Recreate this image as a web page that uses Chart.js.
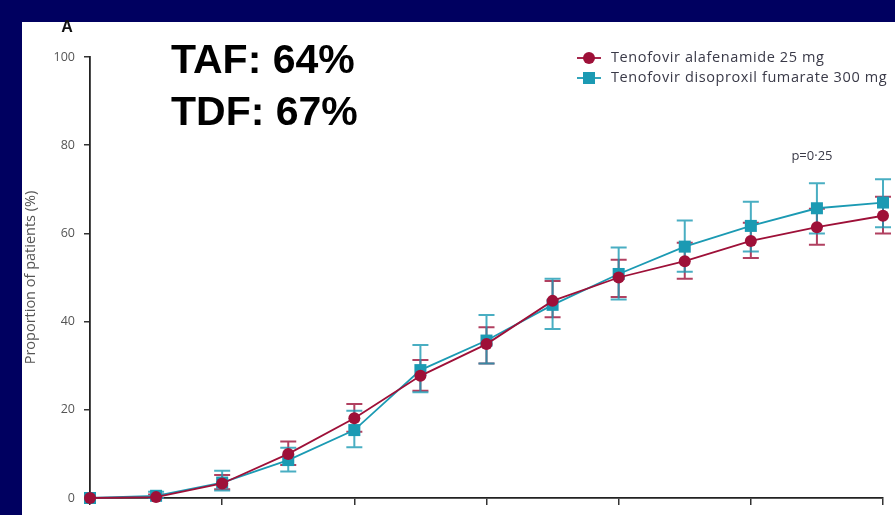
<!DOCTYPE html>
<html>
<head>
<meta charset="utf-8">
<script src="https://cdn.jsdelivr.net/npm/chart.js@4/dist/chart.umd.min.js"></script>
<style>
  html, body { margin: 0; padding: 0; }
  body { width: 895px; height: 515px; background: #000060; position: relative; overflow: hidden; }
  #panel { position: absolute; left: 22px; top: 22px; right: 0; bottom: 0; background: #fff; }
  #chart { position: absolute; left: 0; top: 0; }
</style>
</head>
<body>
<div id="panel"></div>
<canvas id="chart" width="895" height="515"></canvas>
<script>
// weeks on treatment
const weeks = [0, 4, 8, 12, 16, 20, 24, 28, 32, 36, 40, 44, 48];

// Tenofovir alafenamide 25 mg, % with 95% CI
const taf     = [0, 0.2, 3.3, 10.0, 18.1, 27.7, 34.9, 44.7, 50.0, 53.7, 58.3, 61.4, 64];
const tafLow  = [0, 0,   2.0,  7.5, 15.0, 24.3, 30.5, 41.0, 45.6, 49.7, 54.4, 57.4, 60.0];
const tafHigh = [0, 0.8, 5.2, 12.8, 21.3, 31.3, 38.7, 49.2, 54.0, 57.9, 62.4, 65.6, 68.3];

// Tenofovir disoproxil fumarate 300 mg, % with 95% CI
const tdf     = [0, 0.5, 3.5,  8.6, 15.4, 29.0, 35.7, 43.8, 50.8, 57.0, 61.7, 65.7, 67];
const tdfLow  = [0, 0,   1.7,  6.0, 11.5, 24.0, 30.5, 38.3, 45.0, 51.3, 55.9, 60.0, 61.4];
const tdfHigh = [0, 1.4, 6.2, 11.4, 19.8, 34.7, 41.5, 49.7, 56.8, 62.9, 67.2, 71.4, 72.3];

const yTicks = [0, 20, 40, 60, 80, 100];
const seriesNames = ['Tenofovir alafenamide 25 mg', 'Tenofovir disoproxil fumarate 300 mg'];
const headline = ['TAF: 64%', 'TDF: 67%'];
const pValue = 'p=0·25';

const RED = '#9e1038';
const TEAL = '#1b9ab3';
const SMALL_FONT = '"Open Sans", "Noto Sans", sans-serif';

const toPoints = (vals) => vals.map((v, i) => ({ x: weeks[i], y: v }));

// vertical CI bars with caps, drawn under the markers
const errorBars = {
  id: 'errorBars',
  beforeDatasetsDraw(chart) {
    const { ctx, scales: { x, y } } = chart;
    ctx.save();
    chart.data.datasets.forEach((ds) => {
      ctx.strokeStyle = ds.borderColor;
      ctx.globalAlpha = 0.8;
      ctx.lineWidth = 2;
      ds.data.forEach((p, i) => {
        const px = x.getPixelForValue(p.x);
        const lo = y.getPixelForValue(ds.low[i]);
        const hi = y.getPixelForValue(ds.high[i]);
        if (Math.abs(lo - hi) < 2) return;
        ctx.beginPath();
        ctx.moveTo(px, lo); ctx.lineTo(px, hi);
        ctx.moveTo(px - 8, lo); ctx.lineTo(px + 8, lo);
        ctx.moveTo(px - 8, hi); ctx.lineTo(px + 8, hi);
        ctx.stroke();
      });
    });
    ctx.restore();
  }
};

// panel letter, headline numbers, legend and p value
const annotations = {
  id: 'annotations',
  afterDraw(chart) {
    const { ctx, scales: { x, y } } = chart;
    ctx.save();

    ctx.fillStyle = '#111';
    ctx.font = 'bold 16px "Liberation Sans", Arial, sans-serif';
    ctx.textAlign = 'center';
    ctx.textBaseline = 'alphabetic';
    ctx.fillText('A', 67, 32);

    ctx.fillStyle = '#000';
    ctx.textAlign = 'left';
    ctx.font = 'bold 41px "Liberation Sans", Arial, sans-serif';
    ctx.fillText(headline[0], 171, 73);
    ctx.fillText(headline[1], 171, 125);

    // legend: short line with the marker in its middle
    chart.data.datasets.forEach((ds, i) => {
      const ly = 58 + i * 20;
      ctx.strokeStyle = ds.borderColor;
      ctx.lineWidth = 1.8;
      ctx.beginPath();
      ctx.moveTo(577, ly); ctx.lineTo(601, ly);
      ctx.stroke();
      ctx.fillStyle = ds.borderColor;
      ctx.beginPath();
      if (ds.pointStyle === 'rect') {
        const s = ds.pointRadius * Math.SQRT1_2;
        ctx.rect(589 - s, ly - s, 2 * s, 2 * s);
      } else {
        ctx.arc(589, ly, ds.pointRadius, 0, Math.PI * 2);
      }
      ctx.fill();
      ctx.fillStyle = '#3a3a48';
      ctx.font = '14.5px ' + SMALL_FONT;
      ctx.letterSpacing = '0.6px';
      ctx.textBaseline = 'middle';
      ctx.fillText(ds.label, 611, ly, 284);
      ctx.letterSpacing = '0px';
    });

    ctx.fillStyle = '#3a3a48';
    ctx.font = '13px ' + SMALL_FONT;
    ctx.textAlign = 'center';
    ctx.textBaseline = 'middle';
    ctx.fillText(pValue, x.getPixelForValue(43.7), y.getPixelForValue(77.5));

    ctx.restore();
  }
};

new Chart(document.getElementById('chart'), {
  type: 'line',
  data: {
    datasets: [{
      label: seriesNames[0],
      data: toPoints(taf),
      low: tafLow,
      high: tafHigh,
      borderColor: RED,
      backgroundColor: RED,
      borderWidth: 1.8,
      pointStyle: 'circle',
      pointRadius: 6,
      pointBorderWidth: 0,
      tension: 0,
      order: 1
    }, {
      label: seriesNames[1],
      data: toPoints(tdf),
      low: tdfLow,
      high: tdfHigh,
      borderColor: TEAL,
      backgroundColor: TEAL,
      borderWidth: 1.8,
      pointStyle: 'rect',
      pointRadius: 8.5,
      pointBorderWidth: 0,
      tension: 0,
      order: 2
    }]
  },
  options: {
    responsive: false,
    animation: false,
    clip: false,
    layout: { padding: { left: 22, top: 57, right: 12, bottom: 0 } },
    plugins: { legend: { display: false }, tooltip: { enabled: false } },
    scales: {
      x: {
        type: 'linear',
        min: 0,
        max: 48,
        ticks: { display: false, stepSize: 8 },
        grid: { drawOnChartArea: false, drawTicks: true, tickLength: 7, color: '#333', lineWidth: 1.5 },
        border: { display: true, color: '#222', width: 1.8 },
        afterFit(s) { s.height = 17; }
      },
      y: {
        min: 0,
        max: 100,
        afterBuildTicks(s) { s.ticks = yTicks.map(v => ({ value: v })); },
        ticks: { color: '#555', padding: 9, font: { family: SMALL_FONT, size: 12.5 } },
        grid: { drawOnChartArea: false, drawTicks: true, tickLength: 6, color: '#333', lineWidth: 1.5 },
        border: { display: true, color: '#222', width: 1.8 },
        title: {
          display: true,
          text: 'Proportion of patients (%)',
          color: '#555',
          padding: { top: 0, bottom: 0 },
          font: { family: SMALL_FONT, size: 14.5 }
        },
        afterFit(s) { s.width = 68; }
      }
    }
  },
  plugins: [errorBars, annotations]
});
</script>
</body>
</html>
